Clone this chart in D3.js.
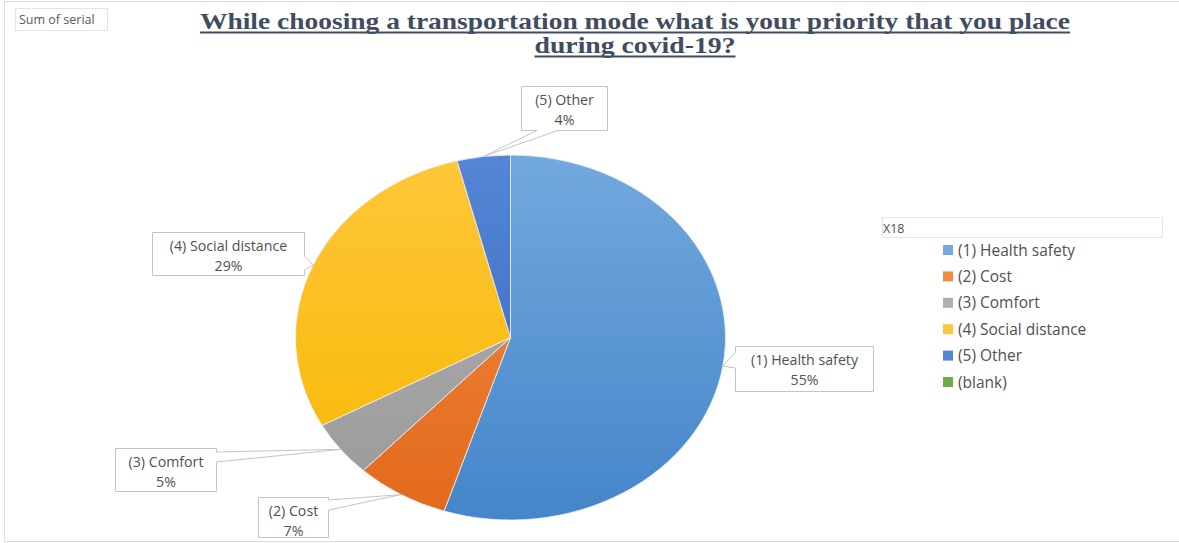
<!DOCTYPE html>
<html>
<head>
<meta charset="utf-8">
<script src="https://cdn.jsdelivr.net/npm/d3@7"></script>
<style>
  html, body { margin: 0; padding: 0; background: #ffffff; }
  svg { display: block; }
</style>
</head>
<body>
<svg id="chart" width="1179" height="543"></svg>
<script>
// Survey answers (share of respondents, %)
const categories = ["(1) Health safety", "(2) Cost", "(3) Comfort", "(4) Social distance", "(5) Other", "(blank)"];
const values = [55, 7, 5, 29, 4, 0];
const percentLabels = ["55%", "7%", "5%", "29%", "4%", ""];

const titleLines = ["While choosing a transportation mode what is your priority that you place", "during covid-19?"];
const fieldLabel = "Sum of serial";
const legendTitle = "X18";

// Slice colours: [light top, darker bottom]
const colors = [
  ["#72a9de", "#4585c9"],
  ["#f28c44", "#e2691b"],
  ["#b0b0b0", "#9a9a9a"],
  ["#ffc63a", "#f6b800"],
  ["#5585d4", "#3767c0"],
  ["#70ad47", "#5f9a3a"]
];

const svg = d3.select("#chart");
const W = 1179, H = 543;

// Outer frame
svg.append("rect")
  .attr("x", 4.5).attr("y", 1.5).attr("width", W + 10).attr("height", H - 3)
  .attr("fill", "#ffffff").attr("stroke", "#dcdcdc").attr("stroke-width", 1);

// Field button
svg.append("rect")
  .attr("x", 15.5).attr("y", 8.5).attr("width", 92).attr("height", 22)
  .attr("fill", "#ffffff").attr("stroke", "#e4e4e4");
svg.append("text")
  .attr("x", 19).attr("y", 24)
  .attr("font-family", "'Open Sans', sans-serif").attr("font-size", 12.5)
  .attr("fill", "#595959").text(fieldLabel);

// Title
const titleColor = "#3f4d60";
const titleSpecs = [
  { cx: 635, y: 29, width: 870 },
  { cx: 635, y: 53, width: 201 }
];
titleLines.forEach((line, i) => {
  const s = titleSpecs[i];
  svg.append("text")
    .attr("x", s.cx).attr("y", s.y)
    .attr("text-anchor", "middle")
    .attr("font-family", "'Liberation Serif', 'Times New Roman', serif")
    .attr("font-weight", "bold").attr("font-size", 24)
    .attr("textLength", s.width).attr("lengthAdjust", "spacingAndGlyphs")
    .attr("fill", titleColor).text(line);
  svg.append("line")
    .attr("x1", s.cx - s.width / 2).attr("x2", s.cx + s.width / 2)
    .attr("y1", s.y + 3.5).attr("y2", s.y + 3.5)
    .attr("stroke", titleColor).attr("stroke-width", 1.8);
});

// Pie geometry (elliptical)
const cx = 510.5, cy = 337.5, rx = 215, ry = 182.5;

const defs = svg.append("defs");
colors.forEach((c, i) => {
  const g = defs.append("linearGradient")
    .attr("id", "grad" + i)
    .attr("gradientUnits", "userSpaceOnUse")
    .attr("x1", 0).attr("x2", 0).attr("y1", -rx).attr("y2", rx);
  g.append("stop").attr("offset", "0%").attr("stop-color", c[0]);
  g.append("stop").attr("offset", "100%").attr("stop-color", c[1]);
});

const pie = d3.pie().sort(null).value(d => d);
const arcs = pie(values);
const arc = d3.arc().innerRadius(0).outerRadius(rx);

const pieG = svg.append("g")
  .attr("transform", `translate(${cx},${cy}) scale(1,${ry / rx})`);
pieG.selectAll("path")
  .data(arcs.filter(d => d.value > 0))
  .join("path")
  .attr("d", arc)
  .attr("fill", d => `url(#grad${d.index})`)
  .attr("stroke", "#eef2f7").attr("stroke-width", 0.8)
  .attr("vector-effect", "non-scaling-stroke");

// Point on the ellipse edge at a slice's mid angle
function edgePoint(d) {
  const a = (d.startAngle + d.endAngle) / 2;
  return [cx + rx * Math.sin(a), cy - ry * Math.cos(a)];
}

// Callout boxes: position of box, and which edge carries the pointer
const callouts = [
  { i: 0, x: 735.5, y: 346.5, w: 138, h: 45, side: "left", a: 352, b: 368 },
  { i: 1, x: 258.5, y: 497.5, w: 70, h: 40, side: "right", a: 500, b: 510 },
  { i: 2, x: 115.5, y: 448.5, w: 101, h: 43, side: "right", a: 452, b: 462 },
  { i: 3, x: 152.5, y: 232.5, w: 152, h: 43, side: "right", a: 256, b: 270 },
  { i: 4, x: 521.5, y: 86.5, w: 86, h: 44, side: "bottom", a: 537, b: 558 }
];

function calloutPath(c, tip) {
  const x0 = c.x, y0 = c.y, x1 = c.x + c.w, y1 = c.y + c.h;
  const p = d3.path();
  p.moveTo(x0, y0);
  p.lineTo(x1, y0);
  if (c.side === "right") { p.lineTo(x1, c.a); p.lineTo(tip[0], tip[1]); p.lineTo(x1, c.b); }
  p.lineTo(x1, y1);
  if (c.side === "bottom") { p.lineTo(c.b, y1); p.lineTo(tip[0], tip[1]); p.lineTo(c.a, y1); }
  p.lineTo(x0, y1);
  if (c.side === "left") { p.lineTo(x0, c.b); p.lineTo(tip[0], tip[1]); p.lineTo(x0, c.a); }
  p.closePath();
  return p.toString();
}

const labelFont = "'Open Sans', 'Noto Sans', sans-serif";
const labelColor = "#505050";
callouts.forEach(c => {
  const d = arcs[c.i];
  const tip = edgePoint(d);
  svg.append("path")
    .attr("d", calloutPath(c, tip))
    .attr("fill", "#ffffff").attr("stroke", "#c4c4c4").attr("stroke-width", 1);
  const g = svg.append("g")
    .attr("text-anchor", "middle")
    .attr("font-family", labelFont).attr("font-size", 14.2)
    .attr("fill", labelColor);
  g.append("text").attr("x", c.x + c.w / 2).attr("y", c.y + 18.5).text(categories[c.i]);
  g.append("text").attr("x", c.x + c.w / 2).attr("y", c.y + 38.5).text(percentLabels[c.i]);
});

// Legend
svg.append("rect")
  .attr("x", 882.5).attr("y", 217.5).attr("width", 280).attr("height", 20)
  .attr("fill", "#ffffff").attr("stroke", "#e4e4e4");
svg.append("text")
  .attr("x", 883).attr("y", 232.5)
  .attr("font-family", labelFont).attr("font-size", 12.5)
  .attr("fill", labelColor).text(legendTitle);

const legendY = d3.scalePoint().domain(categories).range([250, 382]);
const legend = svg.append("g");
categories.forEach((cat, i) => {
  const y = legendY(cat);
  legend.append("rect")
    .attr("x", 943).attr("y", y - 5).attr("width", 10).attr("height", 10)
    .attr("fill", colors[i][0]);
  legend.append("text")
    .attr("x", 958).attr("y", y + 5.5)
    .attr("font-family", labelFont).attr("font-size", 15.5)
    .attr("fill", labelColor).text(cat);
});
</script>
</body>
</html>
